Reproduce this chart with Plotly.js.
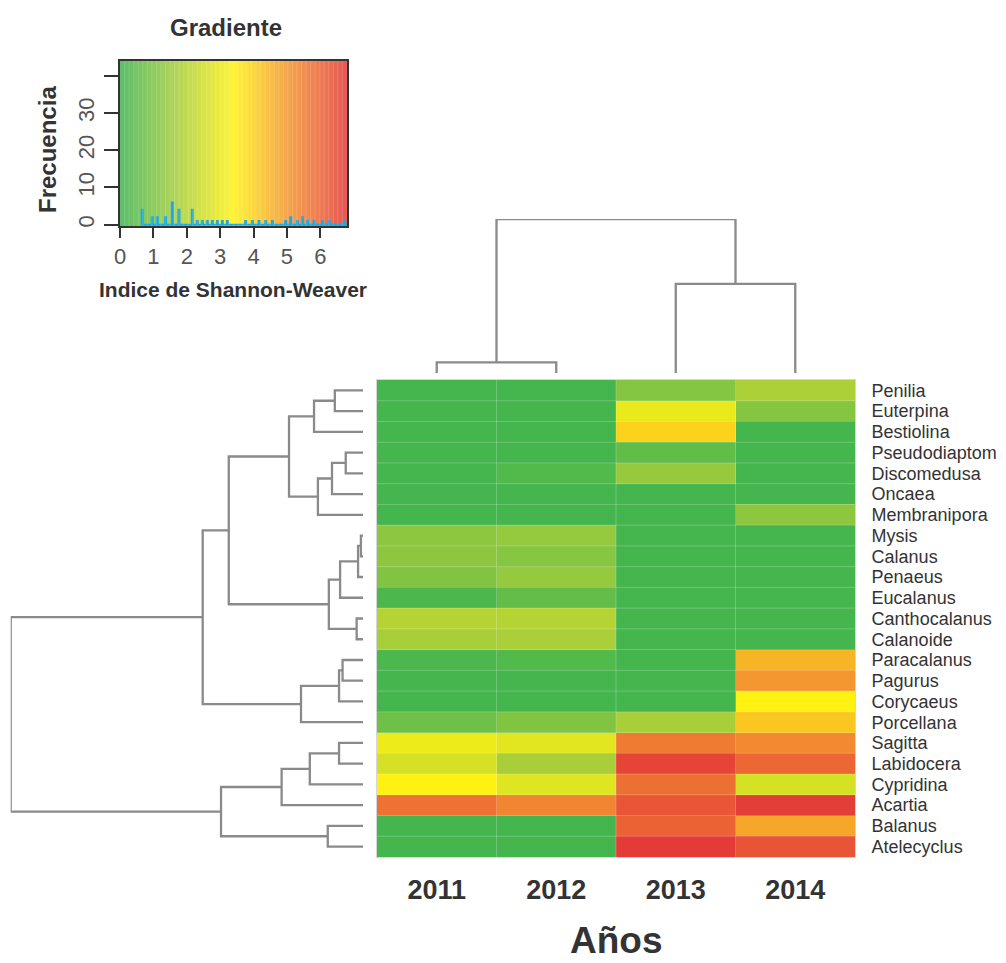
<!DOCTYPE html>
<html>
<head>
<meta charset="utf-8">
<script src="https://cdn.plot.ly/plotly-3.0.1.min.js"></script>
<style>html,body{margin:0;padding:0;background:#fff;}#chart{width:1006px;height:963px;}</style>
</head>
<body>
<div id="chart"></div>
<script>
// ---- data ----
const years = ['2011', '2012', '2013', '2014'];
const species = ['Penilia', 'Euterpina', 'Bestiolina', 'Pseudodiaptom', 'Discomedusa', 'Oncaea',
  'Membranipora', 'Mysis', 'Calanus', 'Penaeus', 'Eucalanus', 'Canthocalanus', 'Calanoide',
  'Paracalanus', 'Pagurus', 'Corycaeus', 'Porcellana', 'Sagitta', 'Labidocera', 'Cypridina',
  'Acartia', 'Balanus', 'Atelecyclus'];
const v2011 = [0.1, 0.1, 0.1, 0.1, 0.1, 0.1, 0.1, 1.3, 1.3, 1.1, 0.22, 2.0, 1.76, 0.22, 0.1, 0.1, 0.8, 3.08, 2.63, 3.4, 5.72, 0.1, 0.1];
const v2012 = [0.1, 0.1, 0.1, 0.1, 0.32, 0.1, 0.1, 1.44, 1.2, 1.44, 0.6, 2.0, 1.8, 0.32, 0.1, 0.1, 1.1, 2.83, 1.75, 2.78, 5.34, 0.1, 0.1];
const v2013 = [1.15, 2.98, 3.94, 0.58, 1.45, 0.1, 0.1, 0.1, 0.1, 0.1, 0.1, 0.1, 0.1, 0.1, 0.1, 0.1, 1.75, 5.55, 6.62, 5.75, 6.28, 6.03, 6.8];
const v2014 = [1.83, 1.15, 0.1, 0.1, 0.1, 0.1, 1.3, 0.1, 0.1, 0.1, 0.1, 0.1, 0.1, 4.47, 5.0, 3.4, 4.17, 5.24, 5.93, 2.6, 6.75, 4.71, 6.3];

// row dendrogram (hclust-style merges: negative = leaf in display order, positive = earlier merge)
const rowMergeA = [-1, 1, -4, 3, 4, 2, -8, 7, 8, -12, 9, 6, -14, 13, 14, 12, -18, 17, 18, -22, 19, 16];
const rowMergeB = [-2, -3, -5, -6, -7, 5, -9, -10, -11, -13, 10, 11, -15, -16, -17, 15, -19, -20, -21, -23, 20, 21];
const rowHeight = [8.0, 13.9, 4.9, 8.8, 12.8, 21.0, 0.6, 1.4, 6.5, 1.8, 9.7, 38.1, 5.8, 6.8, 17.6, 45.5, 6.8, 15.1, 23.1, 10.0, 40.3, 100];
// column dendrogram
const colMergeA = [-1, -3, 1];
const colMergeB = [-2, -4, 2];
const colHeight = [7.1, 57.9, 100];

// histogram of the index (colour key)
const histStart = [0.65, 0.95, 1.1, 1.35, 1.55, 1.75, 2.15, 2.3, 2.45, 2.6, 2.75, 2.9, 3.05, 3.2, 3.75, 3.95, 4.15, 4.35, 4.55, 4.95, 5.1, 5.3, 5.45, 5.6, 5.8, 6.05, 6.25, 6.7];
const histCount = [4, 2, 2, 2, 6, 4, 4, 1, 1, 1, 1, 1, 1, 1, 1, 1, 1, 1, 1, 1, 2, 1, 2, 1, 1, 1, 1, 1];
const histWidth = 0.03;

const zMin = 0, zMax = 6.8;
const colorscale = [[0, '#3fb44f'], [0.25, '#a5cd3b'], [0.5, '#fff212'], [0.75, '#f39130'], [1, '#e43b38']];

// ---- build ----
const z = species.map((s, i) => [v2011[i], v2012[i], v2013[i], v2014[i]]);

function dendro(mA, mB, hs, horizontal) {
  const pos = [], hh = [];
  const xs = [], ys = [];
  function get(id) { return id < 0 ? [-id - 1, 0] : [pos[id - 1], hh[id - 1]]; }
  for (let k = 0; k < hs.length; k++) {
    const [p1, h1] = get(mA[k]);
    const [p2, h2] = get(mB[k]);
    const h = hs[k];
    pos.push((p1 + p2) / 2); hh.push(h);
    const P = [p1, p1, p2, p2], H = [h1, h, h, h2];
    for (let j = 0; j < 4; j++) {
      if (horizontal) { xs.push(H[j]); ys.push(P[j]); } else { xs.push(P[j]); ys.push(H[j]); }
    }
    xs.push(null); ys.push(null);
  }
  return {xs, ys};
}
const rd = dendro(rowMergeA, rowMergeB, rowHeight, true);
const cd = dendro(colMergeA, colMergeB, colHeight, false);

// histogram step line
const hx = [histStart[0]], hy = [0];
for (let i = 0; i < histStart.length; i++) {
  hx.push(histStart[i], histStart[i], histStart[i] + histWidth, histStart[i] + histWidth);
  hy.push(0, histCount[i], histCount[i], 0);
}
hx.push(zMax); hy.push(0);

// colour key strips
const keyN = 50, keyEdges = [], keyMid = [];
for (let i = 0; i <= keyN; i++) keyEdges.push(zMin + (zMax - zMin) * i / keyN);
for (let i = 0; i < keyN; i++) keyMid.push((keyEdges[i] + keyEdges[i + 1]) / 2);
const keyYMin = -0.35, keyYMax = 44;

const W = 1006, H = 963;
const px = v => v / W, py = v => 1 - v / H;
const dendColor = '#8a8a8a';
const font = 'Liberation Sans, Arial, sans-serif';

const traces = [
  {type: 'heatmap', z: z, x: [0, 1, 2, 3], y: species.map((s, i) => i), colorscale: colorscale,
   zmin: zMin, zmax: zMax, showscale: false, xaxis: 'x', yaxis: 'y', hoverinfo: 'z'},
  {type: 'scatter', mode: 'lines', x: rd.xs, y: rd.ys, xaxis: 'x3', yaxis: 'y',
   line: {color: dendColor, width: 2.3}, hoverinfo: 'skip', showlegend: false},
  {type: 'scatter', mode: 'lines', x: cd.xs, y: cd.ys, xaxis: 'x', yaxis: 'y4',
   line: {color: dendColor, width: 2.3}, hoverinfo: 'skip', showlegend: false},
  {type: 'heatmap', z: [keyMid], x: keyEdges, y: [keyYMin, keyYMax], colorscale: colorscale, zmin: zMin, zmax: zMax,
   showscale: false, opacity: 0.85, xaxis: 'x2', yaxis: 'y2', hoverinfo: 'skip'},
  {type: 'scatter', mode: 'lines', x: hx, y: hy, xaxis: 'x2', yaxis: 'y2',
   line: {color: '#1fa9de', width: 2}, hoverinfo: 'skip', showlegend: false}
];

const shapes = [];
for (let i = 0; i < species.length - 1; i++) {
  shapes.push({type: 'line', xref: 'x', yref: 'y', x0: -0.5, x1: 3.5, y0: i + 0.5, y1: i + 0.5,
    line: {color: 'rgba(255,255,255,0.22)', width: 1}});
}
for (let j = 0; j < years.length - 1; j++) {
  shapes.push({type: 'line', xref: 'x', yref: 'y', x0: j + 0.5, x1: j + 0.5, y0: -0.5, y1: species.length - 0.5,
    line: {color: 'rgba(255,255,255,0.22)', width: 1}});
}
for (let i = 1; i < keyN; i++) {
  shapes.push({type: 'line', xref: 'x2', yref: 'y2', x0: keyEdges[i], x1: keyEdges[i], y0: keyYMin, y1: keyYMax,
    layer: 'above', line: {color: 'rgba(255,255,255,0.13)', width: 1.2}});
}

const layout = {
  width: W, height: H, margin: {l: 0, r: 0, t: 0, b: 0},
  paper_bgcolor: '#fff', plot_bgcolor: 'rgba(0,0,0,0)', showlegend: false,
  font: {family: font, color: '#333'},
  xaxis: {domain: [px(377), px(855)], range: [-0.5, 3.5], anchor: 'y', tickvals: [0, 1, 2, 3], ticktext: years,
    ticks: '', ticklabelstandoff: 9, tickfont: {size: 27, color: '#333', family: font, weight: 'bold'},
    showgrid: false, zeroline: false, showline: true, mirror: true, linecolor: '#d6d6d6', linewidth: 1, fixedrange: true},
  yaxis: {domain: [1 - 857 / H, 1 - 380 / H], range: [species.length - 0.5, -0.5], anchor: 'x', side: 'right',
    tickvals: species.map((s, i) => i), ticktext: species, ticks: '', ticklabelstandoff: 12,
    tickfont: {size: 18, color: '#333', family: font}, showgrid: false, zeroline: false,
    showline: true, mirror: true, linecolor: '#d6d6d6', linewidth: 1, fixedrange: true},
  xaxis3: {domain: [px(10.7), px(363)], range: [100, 0], anchor: 'y', visible: false, fixedrange: true},
  yaxis4: {domain: [1 - 373.3 / H, 1 - 219 / H], range: [0, 100], anchor: 'x', visible: false, fixedrange: true},
  xaxis2: {domain: [px(120), px(347)], range: [zMin, zMax], anchor: 'y2', tickvals: [0, 1, 2, 3, 4, 5, 6],
    ticks: 'outside', ticklen: 10, tickwidth: 2, tickcolor: '#333', ticklabelstandoff: 0,
    tickfont: {size: 22, color: '#555', family: font}, showgrid: false, zeroline: false,
    showline: true, mirror: true, linecolor: '#333', linewidth: 2, fixedrange: true},
  yaxis2: {domain: [1 - 226 / H, 1 - 61 / H], range: [keyYMin, keyYMax], anchor: 'x2', tickvals: [0, 10, 20, 30, 40],
    ticktext: ['0', '10', '20', '30', ''], tickangle: -90, ticks: 'outside', ticklen: 14, tickwidth: 2,
    tickcolor: '#333', ticklabelstandoff: 1, tickfont: {size: 22, color: '#555', family: font},
    showgrid: false, zeroline: false, showline: true, mirror: true, linecolor: '#333', linewidth: 2, fixedrange: true},
  shapes: shapes,
  annotations: [
    {text: 'Gradiente', xref: 'paper', yref: 'paper', x: px(226), y: py(27), xanchor: 'center', yanchor: 'middle',
     showarrow: false, font: {size: 24, color: '#333', family: font, weight: 'bold'}},
    {text: 'Frecuencia', xref: 'paper', yref: 'paper', x: px(47), y: py(150), xanchor: 'center', yanchor: 'middle',
     textangle: -90, showarrow: false, font: {size: 24, color: '#333', family: font, weight: 'bold'}},
    {text: 'Indice de Shannon-Weaver', xref: 'paper', yref: 'paper', x: px(233), y: py(290), xanchor: 'center',
     yanchor: 'middle', showarrow: false, font: {size: 21, color: '#333', family: font, weight: 'bold'}},
    {text: 'Años', xref: 'paper', yref: 'paper', x: px(616), y: py(940), xanchor: 'center', yanchor: 'middle',
     showarrow: false, font: {size: 37, color: '#333', family: font, weight: 'bold'}}
  ]
};

Plotly.newPlot('chart', traces, layout, {staticPlot: true, displayModeBar: false});
</script>
</body>
</html>
